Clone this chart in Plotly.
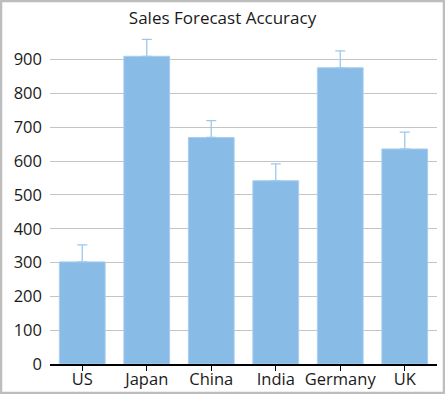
import plotly.graph_objects as go

categories = ["US", "Japan", "China", "India", "Germany", "UK"]
sales = [302, 910, 670, 542, 876, 636]
error_plus = [50, 50, 50, 50, 50, 50]

W, H = 445, 394
ML, MR, MT, MB = 50, 8, 36, 30

fig = go.Figure(go.Bar(
    x=categories, y=sales,
    marker=dict(color="#88BBE5", line=dict(color="#A9CFEF", width=1)),
    error_y=dict(type="data", symmetric=False, array=error_plus, arrayminus=[0]*6,
                 color="#9CC8EE", thickness=1.3, width=5),
))

fig.update_layout(
    width=W, height=H,
    margin=dict(l=ML, r=MR, t=MT, b=MB, autoexpand=False),
    paper_bgcolor="white", plot_bgcolor="white",
    bargap=0.29,
    showlegend=False,
    font=dict(family="Open Sans, Noto Sans, sans-serif", color="#1a1a1a", size=16),
    title=dict(text="Sales Forecast Accuracy", x=0.5, xanchor="center",
               y=1 - 18/H, yanchor="middle", font=dict(size=17, color="#1a1a1a")),
    xaxis=dict(showline=True, linecolor="#000000", linewidth=1.5, automargin=False,
               ticks="outside", ticklen=5, tickcolor="#000000", tickwidth=1,
               ticklabelstandoff=-6,
               showgrid=False, tickfont=dict(size=16.5)),
    yaxis=dict(range=[0, 970], tickvals=list(range(0, 1000, 100)), automargin=False,
               showgrid=True, gridcolor="#C4C4C4", gridwidth=1,
               zeroline=False, showline=False, ticks="", ticklabelstandoff=7,
               tickfont=dict(size=16.5)),
)

pw = W - ML - MR
ph = H - MT - MB
x0 = (1 - ML) / pw
x1 = (W - 1 - ML) / pw
y0 = -(H - 1 - (H - MB)) / ph
y1 = (H - MB - 1) / ph
fig.add_shape(type="rect", xref="paper", yref="paper", x0=x0, x1=x1, y0=y0, y1=y1,
              line=dict(color="#BDBDBD", width=2.5), fillcolor="rgba(0,0,0,0)", layer="above")

fig.write_html("out.html", config={"displayModeBar": False},
               post_script="document.body.style.margin='0';")
